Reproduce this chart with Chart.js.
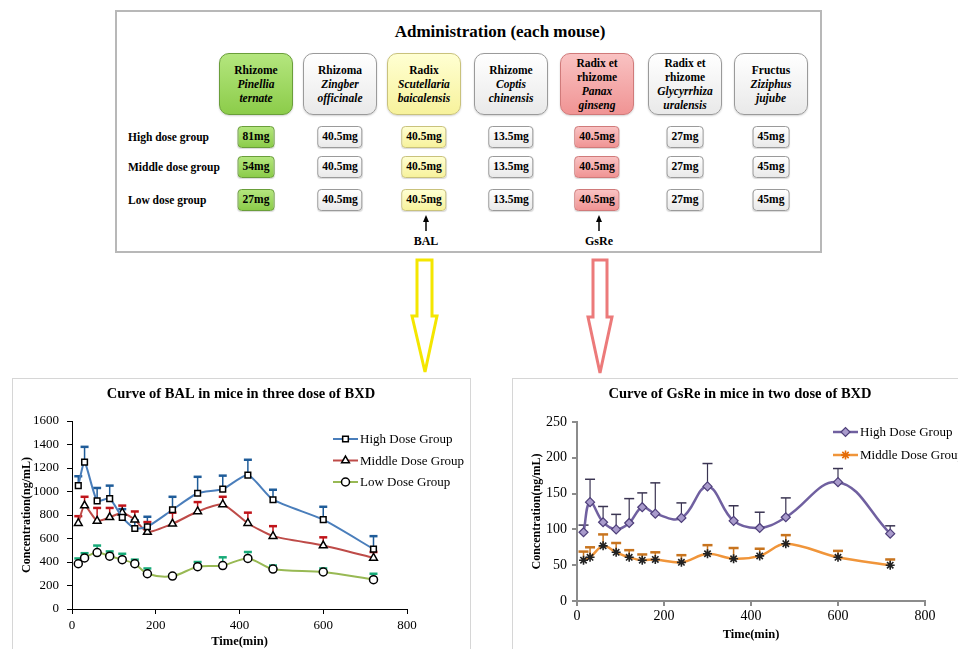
<!DOCTYPE html>
<html>
<head>
<meta charset="utf-8">
<title>BXD administration and plasma curves</title>
<script src="https://cdn.jsdelivr.net/npm/chart.js@4.4.1/dist/chart.umd.min.js"></script>
<style>
  html, body { margin: 0; padding: 0; background: #fff; }
  body {
    width: 958px; height: 649px; overflow: hidden; position: relative;
    font-family: "Liberation Serif", "Times New Roman", serif; color: #000;
  }
  #scheme {
    position: absolute; left: 115px; top: 10px; width: 707px; height: 243px;
    border: 2px solid #b8b8b8; box-sizing: border-box; background: #fff;
  }
  .scheme-title {
    position: absolute; left: 500px; top: 32px; transform: translate(-50%, -50%);
    font-weight: bold; font-size: 17px; white-space: nowrap;
  }
  .herb {
    position: absolute; top: 53px; width: 74px; height: 62px; box-sizing: border-box;
    border-radius: 10px; border: 1.5px solid #9c9c9c;
    display: flex; flex-direction: column; justify-content: center; align-items: center;
    font-weight: bold; font-size: 11.5px; line-height: 14px; text-align: center;
    box-shadow: 0 1px 2px rgba(0,0,0,0.18);
  }
  .herb i { font-style: italic; font-weight: bold; }
  .dose {
    position: absolute; height: 22px; box-sizing: border-box; padding: 0 4px;
    transform: translateX(-50%); border-radius: 4px; border: 1.5px solid #8a8a8a;
    font-weight: bold; font-size: 11.5px; line-height: 19px; white-space: nowrap;
    box-shadow: 0 1px 1px rgba(0,0,0,0.15);
  }
  .row-label {
    position: absolute; left: 128px; transform: translateY(-50%);
    font-weight: bold; font-size: 11.5px; white-space: nowrap;
  }
  .marker-label {
    position: absolute; transform: translate(-50%, -50%);
    font-weight: bold; font-size: 12px;
  }
  .plain  { background: linear-gradient(#ffffff, #e9e9e9); border-color: #9a9a9a; }
  .green  { background: linear-gradient(#b4e67e, #8ccc4a); border-color: #6a9e3a; }
  .yellow { background: linear-gradient(#ffffd2, #f7f29c); border-color: #c9c27c; }
  .pink   { background: linear-gradient(#f9c2c2, #f09494); border-color: #d07a7a; }
  .panel {
    position: absolute; top: 378px; height: 300px; box-sizing: border-box;
    border: 1px solid #d6d6d6; background: #fff;
  }
  canvas { position: absolute; }
  svg { position: absolute; left: 0; top: 0; pointer-events: none; }
</style>
</head>
<body>

<div id="scheme"></div>
<div class="panel" style="left:12px; width:459px;"></div>
<div class="panel" style="left:512px; width:470px;"></div>

<svg width="958" height="649" viewBox="0 0 958 649">
  <!-- hollow arrows leading from the herb table to the two curves -->
  <polygon points="417,260 432,260 432,316 437,316 425,372 412,316 417,316"
           fill="#fff" stroke="#f4e600" stroke-width="3" stroke-linejoin="miter"/>
  <polygon points="593,260 607,260 607,317 612,317 600,373 588,317 593,317"
           fill="#fff" stroke="#ec7a7a" stroke-width="3" stroke-linejoin="miter"/>
  <!-- pointers to the measured components -->
  <line x1="426" y1="231" x2="426" y2="220" stroke="#000" stroke-width="1.5"/>
  <polygon points="426,215 423,222 429,222" fill="#000"/>
  <line x1="599" y1="231" x2="599" y2="220" stroke="#000" stroke-width="1.5"/>
  <polygon points="599,215 596,222 602,222" fill="#000"/>
</svg>

<canvas id="balChart" width="458" height="271" style="left:12px; top:378px;"></canvas>
<canvas id="gsChart" width="456" height="271" style="left:512px; top:378px;"></canvas>

<script>
// ---- prescription table ----
const schemeTitle = 'Administration (each mouse)';
const herbParts = ['Rhizome', 'Rhizoma', 'Radix', 'Rhizome', 'Radix et|rhizome', 'Radix et|rhizome', 'Fructus'];
const herbNames = ['Pinellia|ternate', 'Zingber|officinale', 'Scutellaria|baicalensis', 'Coptis|chinensis',
                   'Panax|ginseng', 'Glycyrrhiza|uralensis', 'Ziziphus|jujube'];
const herbTones = ['green', 'plain', 'yellow', 'plain', 'pink', 'plain', 'plain'];
const doseGroups = ['High dose group', 'Middle dose group', 'Low dose group'];
const highDoses   = ['81mg', '40.5mg', '40.5mg', '13.5mg', '40.5mg', '27mg', '45mg'];
const middleDoses = ['54mg', '40.5mg', '40.5mg', '13.5mg', '40.5mg', '27mg', '45mg'];
const lowDoses    = ['27mg', '40.5mg', '40.5mg', '13.5mg', '40.5mg', '27mg', '45mg'];
const markers = [{ text: 'BAL', column: 2 }, { text: 'GsRe', column: 4 }];

// ---- plasma concentration curves ----
const times = [15, 30, 60, 90, 120, 150, 180, 240, 300, 360, 420, 480, 600, 720];

const balHigh     = [1050, 1250, 920, 940, 780, 685, 700, 845, 985, 1020, 1140, 930, 760, 510];
const balHighSd   = [80, 130, 110, 110, 70, 70, 85, 110, 140, 115, 130, 85, 110, 110];
const balMiddle   = [730, 880, 750, 780, 820, 760, 655, 725, 830, 890, 730, 620, 540, 435];
const balMiddleSd = [60, 75, 110, 80, 60, 70, 85, 95, 80, 65, 90, 85, 70, 50];
const balLow      = [385, 435, 480, 450, 420, 385, 300, 280, 360, 370, 430, 340, 315, 250];
const balLowSd    = [45, 40, 60, 40, 50, 35, 45, 12, 40, 70, 55, 30, 30, 50];

const gsHigh     = [96, 138, 110, 100, 109, 131, 122, 116, 160, 112, 102, 117, 166, 94];
const gsHighSd   = [10, 32, 22, 21, 34, 20, 43, 21, 32, 21, 22, 27, 19, 11];
const gsMiddle   = [57, 61, 77, 68, 61, 57, 58, 54, 66, 59, 63, 80, 61, 50];
const gsMiddleSd = [12, 14, 16, 13, 10, 8, 10, 10, 12, 15, 10, 12, 9, 8];

const seriesNames = ['High Dose Group', 'Middle Dose Group', 'Low Dose Group'];
const balTitle = 'Curve of BAL in mice in three dose of BXD';
const gsTitle = 'Curve of GsRe in mice in two dose of BXD';
const xTitle = 'Time(min)';
const yTitle = 'Concentration(ng/mL)';
const xTicks = [0, 200, 400, 600, 800];
const balTicks = [0, 200, 400, 600, 800, 1000, 1200, 1400, 1600];
const gsTicks = [0, 50, 100, 150, 200, 250];

// ---- build the table ----
(function buildScheme() {
  const body = document.body;
  const colX = [256, 340, 424, 511, 597, 685, 771];
  const rowTop = [126, 156, 189];

  const t = document.createElement('div');
  t.className = 'scheme-title';
  t.textContent = schemeTitle;
  body.appendChild(t);

  herbParts.forEach((part, i) => {
    const box = document.createElement('div');
    box.className = 'herb ' + herbTones[i];
    box.style.left = (colX[i] - 37) + 'px';
    part.split('|').forEach(line => {
      const d = document.createElement('div');
      d.textContent = line;
      box.appendChild(d);
    });
    herbNames[i].split('|').forEach(line => {
      const d = document.createElement('div');
      const it = document.createElement('i');
      it.textContent = line;
      d.appendChild(it);
      box.appendChild(d);
    });
    body.appendChild(box);
  });

  [highDoses, middleDoses, lowDoses].forEach((row, r) => {
    const lab = document.createElement('div');
    lab.className = 'row-label';
    lab.style.top = (rowTop[r] + 11) + 'px';
    lab.textContent = doseGroups[r];
    body.appendChild(lab);
    row.forEach((dose, i) => {
      const b = document.createElement('div');
      b.className = 'dose ' + herbTones[i];
      b.style.left = colX[i] + 'px';
      b.style.top = rowTop[r] + 'px';
      b.textContent = dose;
      body.appendChild(b);
    });
  });

  const markerX = [426, 599];
  markers.forEach((m, k) => {
    const d = document.createElement('div');
    d.className = 'marker-label';
    d.style.left = markerX[k] + 'px';
    d.style.top = '241px';
    d.textContent = m.text;
    body.appendChild(d);
  });
})();

// ---- chart helpers ----
const SERIF = '"Liberation Serif", "Times New Roman", serif';
Chart.defaults.font.family = SERIF;
Chart.defaults.color = '#000';

const toPoints = vals => times.map((t, i) => ({ x: t, y: vals[i] }));
const plainNumber = v => String(v);

// upward standard-deviation whiskers with a cap
function sdWhiskers(sets) {
  return {
    id: 'sdWhiskers',
    beforeDatasetsDraw(chart) {
      const { ctx, scales: { x, y } } = chart;
      sets.forEach(s => {
        ctx.save();
        ctx.strokeStyle = s.color;
        ctx.lineCap = 'butt';
        s.values.forEach((v, i) => {
          const px = x.getPixelForValue(times[i]);
          const y0 = y.getPixelForValue(v);
          const y1 = y.getPixelForValue(v + s.sd[i]);
          ctx.lineWidth = s.stem;
          ctx.beginPath(); ctx.moveTo(px, y0); ctx.lineTo(px, y1); ctx.stroke();
          ctx.lineWidth = s.cap;
          ctx.beginPath(); ctx.moveTo(px - s.half, y1); ctx.lineTo(px + s.half, y1); ctx.stroke();
        });
        ctx.restore();
      });
    }
  };
}

function drawMarker(ctx, style, r, x, y) {
  if (Chart.helpers && Chart.helpers.drawPoint) {
    Chart.helpers.drawPoint(ctx, { pointStyle: style, radius: r, rotation: 0, borderWidth: ctx.lineWidth }, x, y);
    return;
  }
  ctx.beginPath();
  ctx.rect(x - r, y - r, 2 * r, 2 * r);
  ctx.fill(); ctx.stroke();
}

// stacked key of line samples, placed in the upper right of the panel
function keyBox(anchor) {
  return {
    id: 'keyBox',
    afterDraw(chart) {
      const { ctx } = chart;
      chart.data.datasets.forEach((ds, i) => {
        const y = anchor.y + i * anchor.gap;
        ctx.save();
        ctx.strokeStyle = ds.borderColor;
        ctx.lineWidth = ds.borderWidth;
        ctx.beginPath(); ctx.moveTo(anchor.x, y); ctx.lineTo(anchor.x + 25, y); ctx.stroke();
        ctx.fillStyle = ds.keyFill || ds.pointBackgroundColor;
        ctx.strokeStyle = ds.keyStroke || ds.pointBorderColor;
        ctx.lineWidth = ds.pointBorderWidth;
        drawMarker(ctx, ds.pointStyle, ds.pointRadius, anchor.x + 12.5, y);
        ctx.fillStyle = '#000';
        ctx.font = '13px ' + SERIF;
        ctx.textBaseline = 'middle';
        ctx.textAlign = 'left';
        ctx.fillText(ds.label, anchor.x + 27, y + 1);
        ctx.restore();
      });
    }
  };
}

function axisSet(o) {
  return {
    x: {
      type: 'linear', min: xTicks[0], max: xTicks[xTicks.length - 1],
      afterBuildTicks: s => { s.ticks = xTicks.map(v => ({ value: v })); },
      ticks: { color: '#000', font: { size: o.tickSize }, padding: o.xPad, maxRotation: 0, callback: plainNumber },
      grid: { drawOnChartArea: false, drawTicks: true, tickLength: 5, color: o.axisColor, tickColor: o.axisColor, lineWidth: o.axisWidth },
      border: { color: o.axisColor, width: o.axisWidth },
      title: { display: true, text: xTitle, color: '#000', font: { size: 12.5, weight: 'bold', lineHeight: 1.2 }, padding: { top: 0, bottom: o.xTitlePad } },
      afterFit: s => { s.height = o.xHeight; }
    },
    y: {
      type: 'linear', min: o.yTicks[0], max: o.yTicks[o.yTicks.length - 1],
      afterBuildTicks: s => { s.ticks = o.yTicks.map(v => ({ value: v })); },
      ticks: { color: '#000', font: { size: o.tickSize }, padding: o.yPad, callback: plainNumber },
      grid: { drawOnChartArea: false, drawTicks: true, tickLength: 5, color: o.axisColor, tickColor: o.axisColor, lineWidth: o.axisWidth },
      border: { color: o.axisColor, width: o.axisWidth },
      title: { display: true, text: yTitle, color: '#000', font: { size: 12, weight: 'bold', lineHeight: 1.2 }, padding: { top: o.yTitlePad, bottom: 0 } },
      afterFit: s => { s.width = o.yWidth; }
    },
    gutter: {
      type: 'linear', axis: 'y', position: 'right', display: true,
      ticks: { display: false }, grid: { display: false }, border: { display: false },
      title: { display: false },
      afterFit: s => { s.width = o.rightWidth; }
    }
  };
}

function titleOpts(text, bottomPad) {
  return {
    display: true, text, color: '#000',
    font: { size: 14.5, weight: 'bold', lineHeight: 1.2 },
    padding: { top: 8, bottom: bottomPad }
  };
}

// ---- BAL ----
new Chart(document.getElementById('balChart'), {
  type: 'line',
  data: {
    datasets: [
      { label: seriesNames[0], data: toPoints(balHigh), borderColor: '#4a7ebb', borderWidth: 2,
        pointStyle: 'rect', pointRadius: 4, pointBackgroundColor: '#fff', pointBorderColor: '#000', pointBorderWidth: 1.5, tension: 0.2 },
      { label: seriesNames[1], data: toPoints(balMiddle), borderColor: '#be4b48', borderWidth: 2,
        pointStyle: 'triangle', pointRadius: 4.5, pointBackgroundColor: '#fff', pointBorderColor: '#000', pointBorderWidth: 1.5, tension: 0.2 },
      { label: seriesNames[2], data: toPoints(balLow), borderColor: '#98b954', borderWidth: 2,
        pointStyle: 'circle', pointRadius: 4, pointBackgroundColor: '#fff', pointBorderColor: '#000', pointBorderWidth: 1.5, tension: 0.3 }
    ]
  },
  options: {
    responsive: false, animation: false, devicePixelRatio: 1,
    layout: { padding: 0 },
    plugins: { legend: { display: false }, tooltip: { enabled: false }, title: titleOpts(balTitle, 17.6) },
    scales: axisSet({ tickSize: 13, xPad: 4, yPad: 8, axisColor: '#000', axisWidth: 1, yTicks: balTicks,
                      xTitlePad: 0, yTitlePad: 8, xHeight: 40, yWidth: 60, rightWidth: 63 })
  },
  plugins: [
    sdWhiskers([
      { values: balHigh, sd: balHighSd, color: '#1f5c99', stem: 1.5, cap: 2.5, half: 4 },
      { values: balMiddle, sd: balMiddleSd, color: '#c0141a', stem: 1.5, cap: 2.5, half: 4 },
      { values: balLow, sd: balLowSd, color: '#17aa78', stem: 1.5, cap: 2.5, half: 4 }
    ]),
    keyBox({ x: 321, y: 61, gap: 21.5 })
  ]
});

// ---- GsRe ----
new Chart(document.getElementById('gsChart'), {
  type: 'line',
  data: {
    datasets: [
      { label: seriesNames[0], data: toPoints(gsHigh), borderColor: '#7060a0', borderWidth: 2.5,
        pointStyle: 'rectRot', pointRadius: 4.5, pointBackgroundColor: '#a99bcc', pointBorderColor: '#4e3f7a', pointBorderWidth: 1.2, tension: 0.4 },
      { label: seriesNames[1], data: toPoints(gsMiddle), borderColor: '#f0953a', borderWidth: 2.5,
        pointStyle: 'star', pointRadius: 4.5, pointBackgroundColor: '#222', pointBorderColor: '#222', pointBorderWidth: 1.6, tension: 0.35,
        keyFill: '#e46c0a', keyStroke: '#e46c0a' }
    ]
  },
  options: {
    responsive: false, animation: false, devicePixelRatio: 1,
    layout: { padding: 0 },
    plugins: { legend: { display: false }, tooltip: { enabled: false }, title: titleOpts(gsTitle, 18.6) },
    scales: axisSet({ tickSize: 14, xPad: 2, yPad: 5, axisColor: '#8c8c8c', axisWidth: 2, yTicks: gsTicks,
                      xTitlePad: 6.5, yTitlePad: 18, xHeight: 48, yWidth: 65, rightWidth: 43 })
  },
  plugins: [
    sdWhiskers([
      { values: gsHigh, sd: gsHighSd, color: '#3a3452', stem: 1.2, cap: 1.5, half: 5 },
      { values: gsMiddle, sd: gsMiddleSd, color: '#c8741e', stem: 1.5, cap: 2.5, half: 5 }
    ]),
    keyBox({ x: 321, y: 54, gap: 23 })
  ]
});
</script>
</body>
</html>
